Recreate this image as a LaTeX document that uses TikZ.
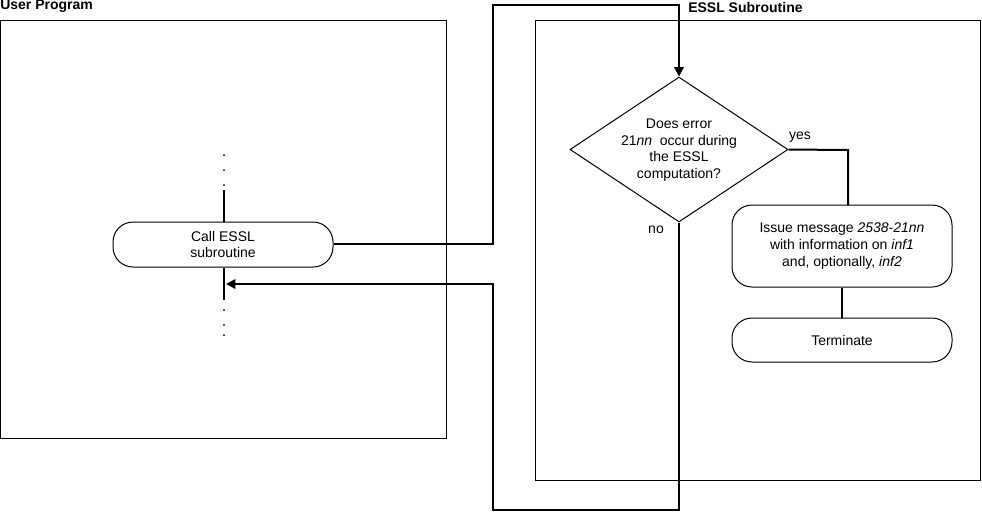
\documentclass[tikz,border=0pt]{standalone}
\usepackage{fontspec}
\setmainfont{Liberation Sans}
\usetikzlibrary{shapes.geometric,arrows.meta}
\begin{document}
\begin{tikzpicture}[x=0.75pt,y=-0.75pt,
  every node/.style={font=\fontsize{10.5}{12.5}\selectfont},
  frame/.style={draw,line width=0.75pt},
  rbox/.style={draw,line width=0.75pt,rounded corners=15pt,minimum width=165pt,align=center,inner sep=0pt},
  conn/.style={line width=1.5pt},
  arr/.style={conn,-{Triangle[length=7pt,width=7pt]}},
  dotty/.style={fill,inner sep=0pt,minimum size=1.5pt,circle}]
\useasboundingbox (0,0) rectangle (982,512);
\draw[frame] (0,20) rectangle (446,438);
\draw[frame] (535,20) rectangle (980,480);
\node[anchor=south west,font=\bfseries\fontsize{10.5}{12.5}\selectfont,inner sep=0pt] (up) at (0,13) {User Program};
\node[anchor=south west,font=\bfseries\fontsize{10.5}{12.5}\selectfont,inner sep=0pt] (es) at (688,13) {ESSL Subroutine};
\node[rbox,minimum height=33.75pt] (call) at (223,244.5) {Call ESSL\\subroutine};
\node[draw,line width=0.75pt,diamond,minimum width=163.5pt,minimum height=108.75pt,inner sep=0pt,aspect=1.5,align=center] (dec) at (679,149.5) {};
\node[align=center] (dect) at (679,150) {Does error\\21\textit{nn}\ \ occur during\\the ESSL\\computation?};
\node[rbox,minimum height=61.5pt] (iss) at (842,246) {Issue message \textit{2538-21nn}\\with information on \textit{inf1}\\and, optionally, \textit{inf2}};
\node[rbox,minimum height=33pt] (term) at (842,340) {Terminate};
\node (yes) at (800,137) {yes};
\node (no) at (656,230) {no};
\coordinate (c1) at (493,244);
\coordinate (c2) at (493,5);
\coordinate (c3) at (679,5);
\coordinate (n1) at (679,510);
\coordinate (n2) at (493,510);
\coordinate (n3) at (493,284);
\coordinate (ret) at (226,284);
\draw[arr] (call.east |- c1) -- (c1) -- (c2) -- (c3) -- (dec.north);
\draw[arr] (dec.south) -- (n1) -- (n2) -- (n3) -- (ret);
\draw[conn] (dec.east) -- (848,150) -- (848,205);
\draw[conn] (iss.south) -- (term.north);
\draw[conn] (224,190) -- (call.north -| 224,0);
\draw[conn] (call.south -| 224,0) -- (224,300);
\foreach \y/\n in {155/a,170/b,185/c,310/d,325/e,335/f} \node[dotty] (d\n) at (224,\y) {};
\end{tikzpicture}
\end{document}
